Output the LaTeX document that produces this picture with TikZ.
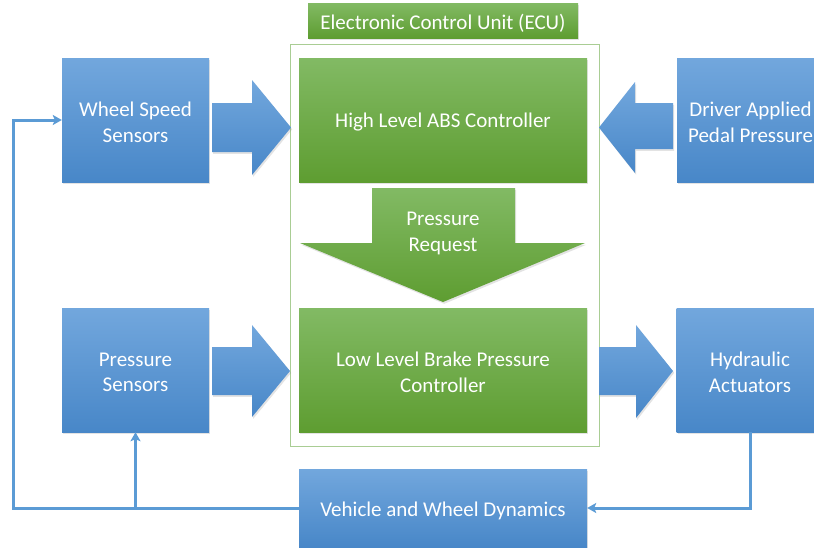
\documentclass[tikz,border=0pt]{standalone}
\usepackage{fontspec}
\setmainfont{Carlito}
\usetikzlibrary{shadows,arrows.meta}
\definecolor{bluetop}{HTML}{72A7DD}
\definecolor{bluebot}{HTML}{4887C8}
\definecolor{greentop}{HTML}{82BA64}
\definecolor{greenbot}{HTML}{5E9D31}
\definecolor{eculine}{HTML}{A9CD94}
\definecolor{linkblue}{HTML}{5B9BD5}
\tikzset{
  softshadow/.style={drop shadow={opacity=0.22, shadow xshift=1.2pt, shadow yshift=-1.8pt}},
  boxtext/.style={text=white, align=center, inner sep=0pt,
    font=\fontsize{21}{25.6}\selectfont},
  box/.style={rectangle, inner sep=0pt, softshadow,
    label={[boxtext, yshift=-2.5pt]center:#1}},
  bluebox/.style={box={#1}, top color=bluetop, bottom color=bluebot},
  greenbox/.style={box={#1}, top color=greentop, bottom color=greenbot},
  bluearrow/.style={top color=bluetop, bottom color=bluebot, softshadow},
  greenarrow/.style={top color=greentop, bottom color=greenbot, softshadow},
  link/.style={draw=linkblue, line width=3pt, line join=miter,
    -{Stealth[length=9pt, width=10pt, inset=2pt]}},
}
\begin{document}
\begin{tikzpicture}[x=1pt, y=-1pt]
\useasboundingbox (0,0) rectangle (814,547);
\clip (0,0) rectangle (814,547);
\fill[white] (0,0) rectangle (814,547);

% ECU frame and its title
\draw[eculine, line width=1pt] (290.5,44.5) rectangle (599,446);
\node[greenbox={Electronic Control Unit (ECU)}, minimum width=270, minimum height=35] (ecu) at (443,20.5) {};

% blocks
\node[bluebox={Wheel Speed\\Sensors}, minimum width=147, minimum height=124] (ws) at (135.5,120) {};
\node[bluebox={Driver Applied\\Pedal Pressure}, minimum width=147, minimum height=124] (drv) at (750.5,120) {};
\node[bluebox={Pressure\\Sensors}, minimum width=147, minimum height=124] (ps) at (135.5,370) {};
\node[bluebox={Hydraulic\\Actuators}, minimum width=147, minimum height=124] (hyd) at (750,370) {};
\node[greenbox={High Level ABS Controller}, minimum width=288, minimum height=124] (hl) at (443,120) {};
\node[greenbox={Low Level Brake Pressure\\Controller}, minimum width=288, minimum height=124] (ll) at (443,370) {};
\node[bluebox={Vehicle and Wheel Dynamics}, minimum width=288, minimum height=78] (veh) at (443,508) {};

% block arrows
\shade[bluearrow] (212,103) -- (252,103) -- (252,80) -- (291,127.5) -- (252,175) -- (252,152) -- (212,152) -- cycle;
\shade[bluearrow] (673,103) -- (635,103) -- (635,82) -- (599,127.5) -- (635,173) -- (635,149) -- (673,149) -- cycle;
\shade[bluearrow] (212,347) -- (252,347) -- (252,325) -- (290,371) -- (252,417) -- (252,395) -- (212,395) -- cycle;
\shade[bluearrow] (599,347) -- (636,347) -- (636,325) -- (673,371) -- (636,418) -- (636,395) -- (599,395) -- cycle;
\shade[greenarrow] (372,188) -- (515,188) -- (515,243) -- (585,243) -- (443,302) -- (300,243) -- (372,243) -- cycle;
\node[boxtext] (req) at (443,233.5) {Pressure\\Request};

% feedback connectors
\coordinate (lowleft) at (13,508);
\coordinate (upleft) at (13,120);
\draw[link] (hyd.south) -- (hyd.south |- veh.east) -- (veh.east);
\draw[link] (veh.west) -- (lowleft) -- (upleft) -- (ws.west);
\draw[link] (ps.south |- veh.west) -- (ps.south);
\end{tikzpicture}
\end{document}
